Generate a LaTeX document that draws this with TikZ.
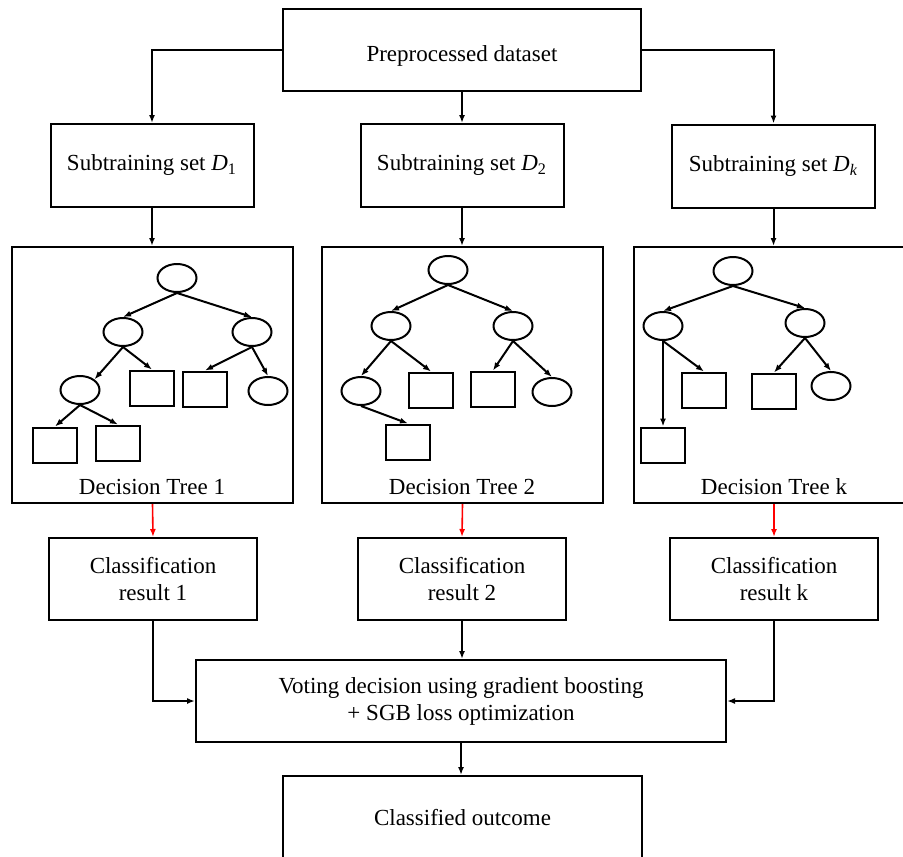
\documentclass[tikz,border=0pt]{standalone}
\usepackage{fontspec}
\setmainfont{Liberation Serif}
\usetikzlibrary{arrows.meta}
\usetikzlibrary{shapes.geometric}
\newcommand{\boxline}{1pt}
\newcommand{\twigline}{1pt}
\newcommand{\subw}{101.5pt}
\newcommand{\subh}{41.5pt}
\newcommand{\treew}{140.5pt}
\newcommand{\treeh}{128pt}
\newcommand{\classw}{104pt}
\newcommand{\classh}{41pt}
\newcommand{\splitw}{19.5pt}
\newcommand{\splith}{14pt}
\newcommand{\leafw}{22pt}
\newcommand{\leafh}{17.5pt}
\newcommand{\setD}[1]{\textit{D}\textsubscript{#1}}
\tikzset{
  stage/.style={draw, line width=\boxline, align=center, inner sep=2pt},
  subset/.style={stage, minimum width=\subw, minimum height=\subh},
  forest/.style={draw, line width=\boxline, minimum width=\treew, minimum height=\treeh},
  result/.style={stage, minimum width=\classw, minimum height=\classh},
  split/.style={draw, ellipse, line width=\twigline, minimum width=\splitw, minimum height=\splith, inner sep=0pt},
  leaf/.style={draw, rectangle, line width=\twigline, minimum width=\leafw, minimum height=\leafh, inner sep=0pt},
  flow/.style={line width=\boxline, -{Latex[length=4pt,width=3pt]}},
  vote/.style={line width=0.8pt, red, -{Latex[length=4pt,width=3pt]}},
  twig/.style={line width=\twigline, -{Latex[length=4pt,width=3pt]}}
}

\begin{document}
\begin{tikzpicture}[x=0.5pt, y=-0.5pt, font=\fontsize{11.5}{13.5}\selectfont]
    \path[use as bounding box, clip] (0,0) rectangle (903,856);

    % dataset and subsets
    \node[stage, minimum width=179pt, minimum height=41pt,
      label={[yshift=-3pt]center:Preprocessed dataset}] (data) at (462,50) {};
    \node[subset] (sub1) at (152,165.5) {Subtraining set \setD{1}};
    \node[subset] (sub2) at (462,165.5) {Subtraining set \setD{2}};
    \node[subset] (subk) at (773.5,166) {Subtraining set \setD{\textit{k}}};

    % tree frames
    \node[forest] (tree1) at (152.5,375) {};
    \node[forest] (tree2) at (462.5,375) {};
    \node[forest] (treek) at (774,375) {};
    \node (tree1txt) at (152,487) {Decision Tree 1};
    \node (tree2txt) at (462,487) {Decision Tree 2};
    \node (treektxt) at (774,487) {Decision Tree k};

    % tree 1
    \node[split] (t1r) at (177,278) {};
    \node[split] (t1a) at (123,332) {};
    \node[split] (t1b) at (252,332) {};
    \node[split] (t1c) at (80,390) {};
    \node[leaf] (t1d) at (152,388) {};
    \node[leaf] (t1e) at (205,389) {};
    \node[split] (t1f) at (268,391) {};
    \node[leaf] (t1g) at (55,445) {};
    \node[leaf] (t1h) at (118,443) {};

    % tree 2
    \node[split] (t2r) at (448,270) {};
    \node[split] (t2a) at (391,326) {};
    \node[split] (t2b) at (513,326) {};
    \node[split] (t2c) at (361,391) {};
    \node[leaf] (t2d) at (431,390) {};
    \node[leaf] (t2e) at (493,389) {};
    \node[split] (t2f) at (552,392) {};
    \node[leaf] (t2g) at (408,442) {};

    % tree k
    \node[split] (tkr) at (733,271) {};
    \node[split] (tka) at (663,326) {};
    \node[split] (tkb) at (805,323) {};
    \node[leaf] (tkc) at (663,445) {};
    \node[leaf] (tkd) at (704,390) {};
    \node[leaf] (tke) at (774,391) {};
    \node[split] (tkf) at (831,386) {};

    \foreach \from/\to in {t1r/t1a, t1r/t1b, t1a/t1d, t1b/t1e, t1b/t1f, t1c/t1g, t1c/t1h,
      t2r/t2a, t2r/t2b, t2a/t2c, t2a/t2d, t2b/t2e, t2b/t2f, t2c/t2g,
      tkr/tka, tkr/tkb, tka/tkc, tka/tkd, tkb/tke, tkb/tkf}
      \draw[twig] (\from.south) -- (\to.north);
    \draw[twig] (t1a.south) -- (t1c.north east);

    % results and vote
    \node[result] (class1) at (153,579) {Classification\\result 1};
    \node[result] (class2) at (462,579) {Classification\\result 2};
    \node[result] (classk) at (774,579) {Classification\\result k};
    \node[stage, minimum width=265pt, minimum height=41pt] (voting) at (461,701)
      {Voting decision using gradient boosting\\+ SGB loss optimization};
    \node[stage, minimum width=179.5pt, minimum height=42pt] (outcome) at (462.5,818)
      {Classified outcome};

    % connectors
    \draw[flow] (data.west) -| (sub1.north);
    \draw[flow] (data.south) -- (sub2.north);
    \draw[flow] (data.east) -| (subk.north);
    \draw[flow] (sub1.south) -- (sub1.south |- tree1.north);
    \draw[flow] (sub2.south) -- (sub2.south |- tree2.north);
    \draw[flow] (subk.south) -- (subk.south |- treek.north);
    \draw[vote] (tree1.south) -- (class1.north);
    \draw[vote] (tree2.south) -- (class2.north);
    \draw[vote] (treek.south) -- (classk.north);
    \draw[flow] (class1.south) |- (voting.west);
    \draw[flow] (class2.south) -- (class2.south |- voting.north);
    \draw[flow] (classk.south) |- (voting.east);
    \draw[flow] (voting.south) -- (voting.south |- outcome.north);
\end{tikzpicture}
\end{document}
